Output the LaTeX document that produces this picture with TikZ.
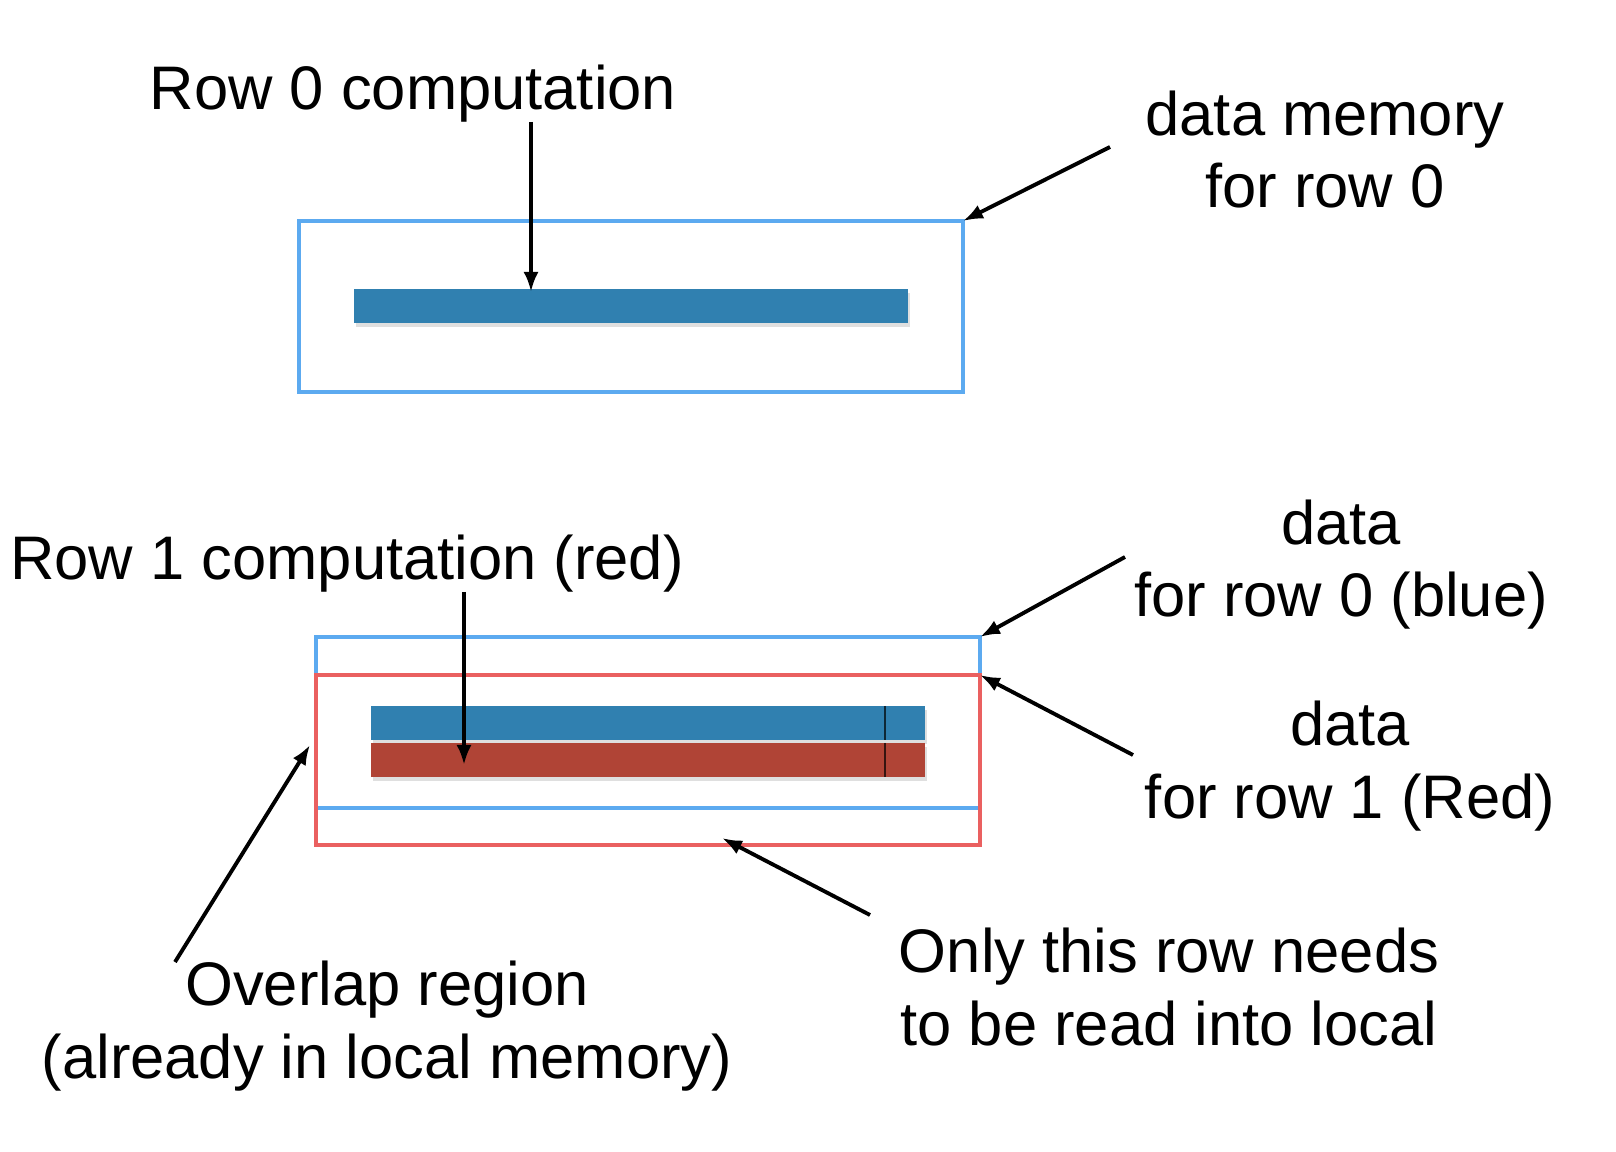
\documentclass[tikz,border=0pt]{standalone}
\usepackage{fontspec}
\setmainfont{Liberation Sans}
\usetikzlibrary{arrows.meta,shadows}
\definecolor{memblue}{RGB}{92,170,240}
\definecolor{memred}{RGB}{234,96,96}
\definecolor{barblue}{RGB}{48,128,176}
\definecolor{barred}{RGB}{176,68,54}
\newcommand{\lbltext}{\fontsize{17.5}{20.5}\selectfont}

\begin{document}
\begin{tikzpicture}[x=0.1mm, y=-0.1mm,
  membox/.style={draw, line width=0.9pt, minimum width=66.4mm, minimum height=17.1mm, inner sep=0pt, outer sep=0pt},
  databar/.style={minimum width=55.4mm, minimum height=3.4mm, inner sep=0pt, outer sep=0pt,
    drop shadow={shadow xshift=0.2mm, shadow yshift=-0.4mm, opacity=0.25}},
  lbl/.style={align=center, font=\lbltext, inner sep=0pt, anchor=base},
  pointer/.style={-{Latex[length=2mm, width=1.5mm]}, line width=1.1pt}]
  \useasboundingbox (0,0) rectangle (1616,1152);

  \node [membox, draw=memblue] (mem0) at (631,306.5) {};
  \node [databar, fill=barblue] (bar0) at (631,306.5) {};

  \node [lbl] (row0) at (413,110) {Row 0 computation};
  \node [lbl] (mem0lbl) at (1325,208) {data memory\\for row 0};
  \coordinate (row0from) at (531,122);
  \coordinate (row0to) at (531,292);
  \coordinate (mem0from) at (1110,147);
  \draw [pointer] (row0from) -- (row0to);
  \draw [pointer] (mem0from) -- (mem0.north east);

  \node [membox, draw=memblue] (mem1b) at (648,722.5) {};
  \node [membox, draw=memred, minimum height=17mm] (mem1r) at (648,760) {};
  \node [databar, fill=barblue] (bar1b) at (648,723) {};
  \node [databar, fill=barred] (bar1r) at (648,760) {};
  \draw [black!70!barblue, line width=0.4pt] (885,706) -- (885,740);
  \draw [black!70!barred, line width=0.4pt] (885,743) -- (885,777);

  \node [lbl] (row1) at (347,580) {Row 1 computation (red)};
  \node [lbl] (data0lbl) at (1341,617) {data\\for row 0 (blue)};
  \node [lbl] (data1lbl) at (1350,818) {data\\for row 1 (Red)};
  \node [lbl] (overlap) at (387,1078) {Overlap region\\(already in local memory)};
  \node [lbl] (onlyrow) at (1169,1045) {Only this row needs\\to be read into local};

  \coordinate (row1from) at (464,592);
  \coordinate (row1to) at (464,765);
  \coordinate (data0from) at (1125,557);
  \coordinate (data1from) at (1133,755);
  \coordinate (overlapfrom) at (175,962);
  \coordinate (overlapto) at (310,745);
  \coordinate (onlyfrom) at (870,915);
  \coordinate (onlyto) at (722,838);
  \draw [pointer] (row1from) -- (row1to);
  \draw [pointer] (data0from) -- (mem1b.north east);
  \draw [pointer] (data1from) -- (mem1r.north east);
  \draw [pointer] (overlapfrom) -- (overlapto);
  \draw [pointer] (onlyfrom) -- (onlyto);
\end{tikzpicture}
\end{document}
